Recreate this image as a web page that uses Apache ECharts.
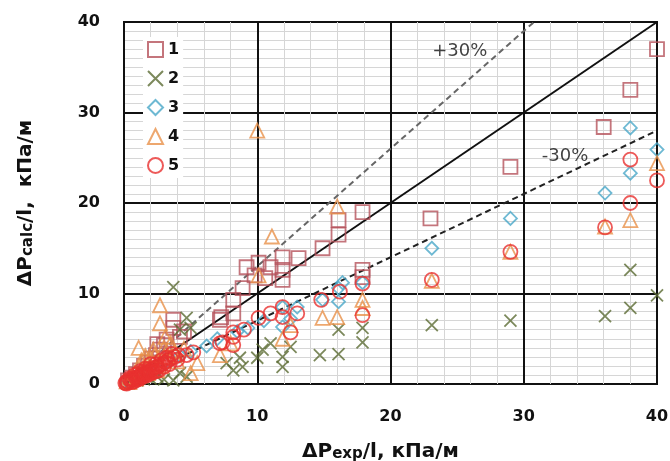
<!DOCTYPE html>
<html>
<head>
<meta charset="utf-8">
<script src="https://cdn.jsdelivr.net/npm/echarts@6/dist/echarts.min.js"></script>
<style>
  html, body { margin: 0; padding: 0; background: #fff; }
  #chart { width: 670px; height: 461px; }
</style>
</head>
<body>
<div id="chart"></div>
<script>
// 点数据 [ΔPexp/l, ΔPcalc/l]
var s1 = [
	[0.3,0.4],[0.6,0.7],[0.9,1.1],[1.2,1.5],[1.5,2.0],[1.8,2.4],[2.1,2.8],[2.4,3.2],[2.5,4.4],
	[2.7,3.8],[3.0,4.3],[3.2,4.9],[3.7,6.2],[3.7,7.1],[4.2,5.2],[4.5,5.8],[7.2,7.1],[7.3,7.4],
	[8.2,7.8],[8.2,9.3],[8.9,10.6],[9.2,12.9],[9.8,12.0],[10.1,13.4],[10.6,11.7],[11.0,12.9],
	[11.9,14.0],[11.9,12.6],[11.9,11.5],[13.1,13.9],[14.9,15.0],[16.1,16.5],[16.1,18.1],
	[17.9,19.0],[17.9,12.6],[17.9,11.8],[23.0,18.3],[29.0,24.0],[36.0,28.4],[38.0,32.5],[40.0,37.0]
];
var s2 = [
	[0.5,0.2],[1.0,0.4],[1.5,0.5],[2.0,0.6],[2.5,0.8],[3.0,0.5],[3.7,0.4],[4.7,0.8],[4.2,1.2],
	[3.7,10.7],[4.2,6.0],[4.7,7.3],[5.0,6.2],[7.7,2.3],[8.2,1.5],[8.7,2.9],[8.9,1.9],[10.0,2.9],
	[10.4,3.8],[11.0,4.5],[11.9,3.0],[11.9,1.9],[12.5,4.1],[14.7,3.2],[16.1,6.0],[16.1,3.3],
	[17.9,6.2],[17.9,4.6],[23.1,6.5],[29.0,7.0],[36.1,7.5],[38.0,8.4],[38.0,12.6],[40.0,9.8]
];
var s3 = [
	[0.3,0.2],[0.8,0.6],[1.3,1.0],[2.0,1.5],[3.0,2.3],[4.2,3.1],[5.0,3.6],[6.2,4.2],[7.0,5.0],
	[8.5,5.8],[9.3,6.2],[10.5,7.0],[11.9,6.3],[11.9,8.5],[12.5,7.2],[13.0,8.5],[14.9,9.3],
	[16.1,9.1],[16.1,10.6],[16.4,11.2],[17.9,11.2],[23.1,15.0],[29.0,18.3],[36.1,21.1],
	[38.0,23.3],[38.0,28.3],[40.0,25.9]
];
var s4 = [
	[0.2,0.3],[0.5,0.8],[0.8,1.2],[1.1,4.0],[1.5,2.0],[2.0,2.8],[2.3,3.2],[2.7,6.7],[2.7,8.7],
	[3.0,4.0],[3.5,4.5],[2.5,1.5],[4.0,2.5],[5.5,2.3],[7.2,3.2],[8.0,4.5],[10.0,28.0],[10.1,12.0],
	[11.1,16.3],[11.9,5.0],[12.5,6.5],[14.9,7.3],[16.0,7.4],[16.0,19.6],[17.9,9.3],[17.9,8.4],
	[23.1,11.4],[29.0,14.6],[36.1,17.4],[38.0,18.1],[40.0,24.4],
	[0.4,0.2],[0.9,0.6],[1.3,2.6],[1.8,1.2],[2.2,3.8],[2.8,2.0],[3.3,3.0],[3.8,3.6],[4.5,3.9],
	[1.6,3.1],[3.1,5.2],[5.0,1.2]
];
var s5 = [
	[0.1,0.1],[0.3,0.2],[0.5,0.4],[0.7,0.5],[0.9,0.7],[1.1,0.8],[1.3,1.0],[1.5,1.1],[1.7,1.3],
	[1.9,1.4],[2.1,1.6],[2.3,1.8],[2.5,1.9],[2.7,2.1],[2.9,2.2],[3.1,2.4],[3.3,2.6],[3.5,2.8],
	[3.8,3.0],[4.1,3.2],[4.7,3.2],[5.2,3.5],[0.4,0.6],[0.8,1.0],[1.2,1.4],[1.6,1.7],[2.0,2.2],
	[0.6,0.2],[1.0,0.5],[1.4,0.8],[1.8,1.0],[2.2,1.3],[2.6,1.5],[7.2,4.5],[7.4,4.6],[8.2,4.3],
	[0.2,0.3],[0.6,0.6],[1.0,1.1],[1.4,1.3],[1.8,1.6],[2.4,2.2],[2.8,2.6],[3.2,2.9],[3.6,3.3],
	[0.2,0.05],[0.8,0.3],[1.2,0.6],[1.6,0.9],[2.0,1.2],[2.4,1.4],[3.0,1.9],[3.4,2.2],[4.0,2.7],
	[8.2,5.7],[8.2,5.2],[9.0,6.0],[10.1,7.3],[11.0,7.8],[11.9,7.4],[11.9,8.5],[12.5,5.7],
	[13.0,7.8],[14.8,9.3],[16.2,10.2],[17.9,11.1],[17.9,7.6],[23.1,11.5],[29.0,14.6],
	[36.1,17.3],[38.0,20.0],[38.0,24.8],[40.0,22.5]
];
var names = ['1', '2', '3', '4', '5'];
// 参考线
var lineEqual = [[0, 0], [40, 40]];
var linePlus30 = [[0, 0], [30.77, 40]];
var lineMinus30 = [[0, 0], [40, 28]];
// 参考线标注
var notes = ['+30%', '-30%'];
var notePos = [[25.2, 36.8], [33.1, 25.2]];

var chart = echarts.init(document.getElementById('chart'), null, { renderer: 'canvas' });

var font = '"DejaVu Sans", sans-serif';

function pts(name, data, symbol, size, color) {
	return {
		name: name,
		type: 'scatter',
		data: data,
		symbol: symbol,
		symbolSize: size,
		z: 3,
		itemStyle: { color: 'rgba(255,255,255,0)', borderColor: color, borderWidth: 1.8 }
	};
}

function refLine(data, color, type) {
	return {
		type: 'line',
		data: data,
		showSymbol: false,
		silent: true,
		z: 2,
		lineStyle: { color: color, width: 2, type: type }
	};
}

var titleRich = {
	a: { fontSize: 20, fontWeight: 'bold', color: '#111', fontFamily: font },
	b: { fontSize: 15, fontWeight: 'bold', color: '#111', fontFamily: font, padding: [4, 0, 0, 0] }
};

chart.setOption({
	animation: false,
	backgroundColor: '#fff',
	grid: {
		left: 124, top: 22, width: 533, height: 362,
		outerBoundsMode: 'none',
		show: true, borderColor: '#111', borderWidth: 2
	},
	legend: {
		data: names,
		orient: 'vertical',
		left: 143, top: 37,
		itemWidth: 15, itemHeight: 15, itemGap: 12,
		backgroundColor: '#fff',
		padding: [4, 4],
		textStyle: { fontSize: 16, fontWeight: 'bold', color: '#111', fontFamily: font }
	},
	xAxis: {
		type: 'value', min: 0, max: 40, interval: 10,
		name: '{a|ΔP}{b|exp}{a|/l, кПа/м}',
		nameLocation: 'middle', nameGap: 58,
		nameTextStyle: { rich: titleRich, padding: [0, 20, 0, 0] },
		axisLine: { show: false },
		axisTick: { show: false },
		axisLabel: { fontSize: 16, fontWeight: 'bold', color: '#111', fontFamily: font, margin: 25 },
		splitLine: { lineStyle: { color: '#111', width: 2 } },
		minorTick: { show: false, splitNumber: 5 },
		minorSplitLine: { show: true, lineStyle: { color: '#d6d6d6', width: 1 } }
	},
	yAxis: {
		type: 'value', min: 0, max: 40, interval: 10,
		name: '{a|ΔP}{b|calc}{a|/l,  кПа/м}',
		nameLocation: 'middle', nameGap: 88, nameRotate: 90,
		nameTextStyle: { rich: titleRich },
		axisLine: { show: false },
		axisTick: { show: false },
		axisLabel: { fontSize: 16, fontWeight: 'bold', color: '#111', fontFamily: font, margin: 24 },
		splitLine: { lineStyle: { color: '#111', width: 2 } },
		minorTick: { show: false, splitNumber: 10 },
		minorSplitLine: { show: true, lineStyle: { color: '#d6d6d6', width: 1 } }
	},
	series: [
		refLine(lineEqual, '#111', 'solid'),
		refLine(linePlus30, '#666', [6, 4]),
		refLine(lineMinus30, '#222', [6, 4]),
		pts(names[0], s1, 'rect', 14, '#b5525b'),
		pts(names[1], s2, 'path://M0,0L10,10M10,0L0,10', 12, '#5b6b33'),
		pts(names[2], s3, 'diamond', 13, '#4aa8c8'),
		pts(names[3], s4, 'triangle', 14, '#e8914a'),
		pts(names[4], s5, 'circle', 14, '#e8312f'),
		{
			type: 'scatter',
			data: notePos,
			symbolSize: 0,
			silent: true,
			z: 4,
			label: {
				show: true,
				position: 'inside',
				formatter: function (p) { return notes[p.dataIndex]; },
				fontSize: 18, color: '#111', fontFamily: font
			}
		}
	]
});
</script>
</body>
</html>
